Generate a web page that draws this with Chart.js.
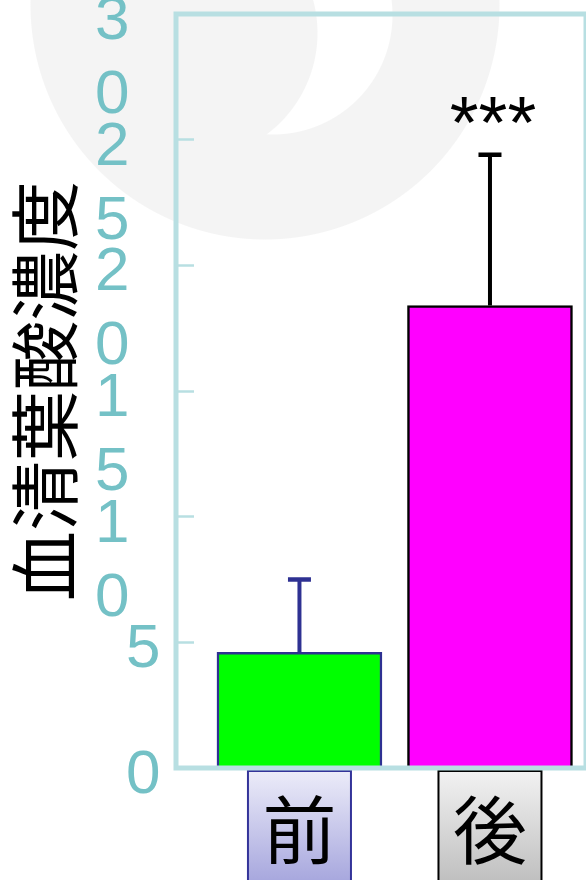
<!DOCTYPE html>
<html lang="ja">
<head>
<meta charset="UTF-8">
<title>血清葉酸濃度</title>
<script src="https://cdn.jsdelivr.net/npm/chart.js"></script>
<style>
  body { margin: 0; background: #fff; }
  #wrap {
    position: relative; width: 586px; height: 880px; overflow: hidden;
    /* faint swirl watermark behind the plot */
    background:
      radial-gradient(circle 127px at 191px 33px, #f4f4f4 126px, transparent 127px),
      radial-gradient(circle 120px at 273px 15px, #fff 119px, transparent 120px),
      radial-gradient(circle 235px at 265px 5px, #f4f4f4 234px, transparent 235px),
      #fff;
  }
</style>
</head>
<body>
<div id="wrap"><canvas id="folateChart"></canvas></div>
<script>
// 前 / 後 の血清葉酸濃度（平均値と誤差上端）
const groupLabels = ['前', '後'];
const folateMean = [4.6, 18.4];
const folateErrTop = [7.5, 24.4];
const sigMarks = ['', '***'];
const yTicks = [0, 5, 10, 15, 20, 25, 30];

const barFill = ['#00ff00', '#ff00ff'];
const barEdge = ['#2e3192', '#000000'];
const labelBoxes = [
  { top: '#ececf9', bottom: '#a8a8de', edge: '#333399' },
  { top: '#f2f2f2', bottom: '#c0c0c0', edge: '#000000' }
];

const axisColor = '#b8dfe2';
const tickLabelColor = '#74c1c6';
const latin = '"Liberation Sans", Arial, sans-serif';
const cjk = '"Noto Sans CJK JP", sans-serif';

// gradient boxes behind the group labels
const labelBoxPlugin = {
  id: 'labelBoxes',
  beforeDraw(chart) {
    const { ctx, chartArea, scales: { x } } = chart;
    groupLabels.forEach((_, i) => {
      const cx = x.getPixelForValue(i + 1);
      const w = 103, top = chartArea.bottom + 3, h = chart.height - top + 10;
      const st = labelBoxes[i];
      const g = ctx.createLinearGradient(0, top, 0, chart.height);
      g.addColorStop(0, st.top);
      g.addColorStop(1, st.bottom);
      ctx.save();
      ctx.fillStyle = g;
      ctx.fillRect(cx - w / 2, top, w, h);
      ctx.lineWidth = 2;
      ctx.strokeStyle = st.edge;
      ctx.strokeRect(cx - w / 2, top, w, h);
      ctx.restore();
    });
  }
};

// error bars, significance marks and the plot frame
const errorBarPlugin = {
  id: 'errorBars',
  afterDatasetsDraw(chart) {
    const { ctx, chartArea, scales: { y } } = chart;
    const bars = chart.getDatasetMeta(0).data;
    ctx.save();
    bars.forEach((bar, i) => {
      const yTop = y.getPixelForValue(folateErrTop[i]);
      ctx.strokeStyle = barEdge[i];
      ctx.lineWidth = 4;
      ctx.beginPath();
      ctx.moveTo(bar.x, bar.y);
      ctx.lineTo(bar.x, yTop);
      ctx.stroke();
      ctx.lineWidth = 4.5;
      ctx.beginPath();
      ctx.moveTo(bar.x - 11.5, yTop);
      ctx.lineTo(bar.x + 11.5, yTop);
      ctx.stroke();
      if (sigMarks[i]) {
        ctx.fillStyle = '#000';
        ctx.font = '74px ' + latin;
        ctx.textAlign = 'center';
        ctx.textBaseline = 'alphabetic';
        ctx.fillText(sigMarks[i], bar.x + 3, yTop - 7);
      }
    });
    ctx.strokeStyle = axisColor;
    ctx.lineWidth = 5;
    ctx.strokeRect(chartArea.left, chartArea.top, chartArea.right - chartArea.left, chartArea.bottom - chartArea.top);
    ctx.restore();
  }
};

new Chart(document.getElementById('folateChart'), {
  type: 'bar',
  data: {
    datasets: [{
      data: folateMean.map((v, i) => ({ x: i + 1, y: v })),
      backgroundColor: barFill,
      borderColor: barEdge,
      borderWidth: 2.5,
      barThickness: 165
    }]
  },
  options: {
    responsive: true,
    maintainAspectRatio: false,
    animation: false,
    layout: { padding: { top: 14, right: 0, bottom: 0, left: 0 } },
    plugins: { legend: { display: false }, tooltip: { enabled: false } },
    scales: {
      x: {
        type: 'linear',
        offset: false,
        bounds: 'data',
        min: 0.352,
        max: 2.504,
        afterBuildTicks: s => { s.ticks = groupLabels.map((_, i) => ({ value: i + 1 })); },
        afterFit: s => { s.height = 112; s.paddingLeft = 0; s.paddingRight = 0; },
        grid: { display: false, drawTicks: false, offset: false },
        border: { display: false },
        ticks: {
          callback: (v, i) => groupLabels[i],
          color: '#000',
          font: { family: cjk, size: 74, lineHeight: 1 },
          padding: 25,
          maxRotation: 0,
          autoSkip: false
        }
      },
      y: {
        min: 0,
        max: 30,
        afterBuildTicks: s => { s.ticks = yTicks.map(v => ({ value: v })); },
        afterFit: s => { s.width = 176; s.paddingTop = 0; s.paddingBottom = 0; },
        grid: { drawOnChartArea: false, drawTicks: true, tickLength: -18, tickColor: axisColor, tickWidth: 2.5 },
        border: { display: false },
        ticks: {
          // two-digit values are stacked one digit per line
          callback: v => {
            const s = String(v);
            return s.length > 1 ? s.split('').map(c => c + '\u2002') : [s, ''];
          },
          autoSkip: false,
          color: tickLabelColor,
          font: { family: latin, size: 62, lineHeight: '74px' },
          padding: 33.5,
          labelOffset: 45
        },
        title: {
          display: true,
          text: '血清葉酸濃度',
          color: '#000',
          font: { family: cjk, size: 70, lineHeight: 1 },
          padding: { top: 10, bottom: 0 }
        }
      }
    }
  },
  plugins: [labelBoxPlugin, errorBarPlugin]
});
</script>
</body>
</html>
